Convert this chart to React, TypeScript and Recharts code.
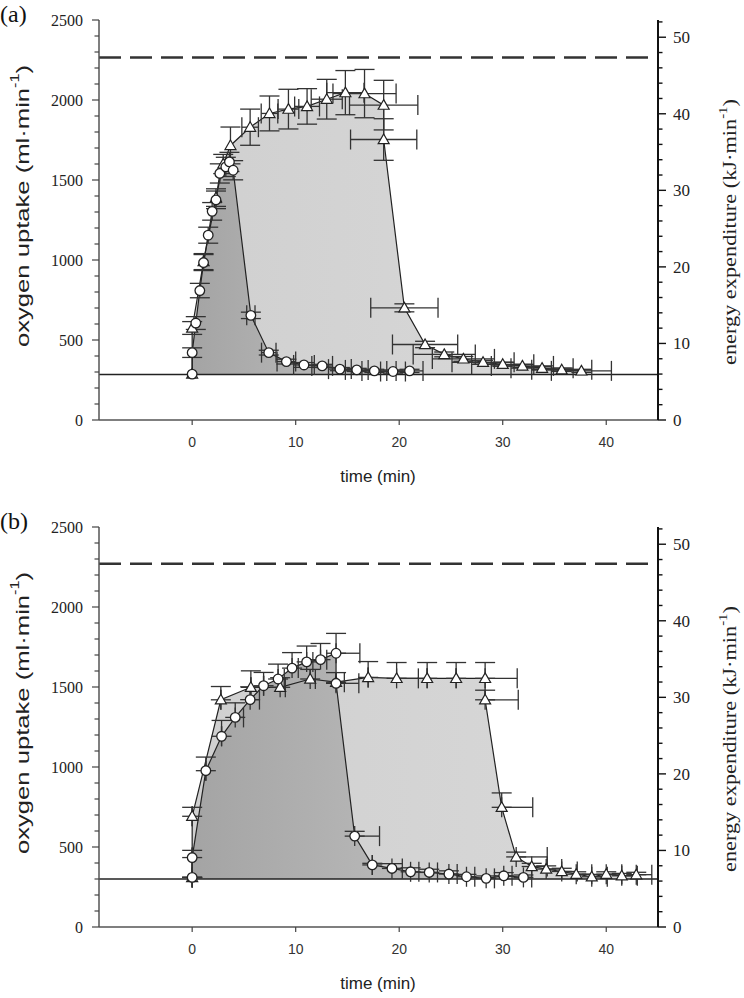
import React from "react";
import {
	Area,
	ComposedChart,
	ErrorBar,
	Line,
	ReferenceLine,
	Scatter,
	XAxis,
	YAxis,
} from "recharts";

const timeTicks = [0, 10, 20, 30, 40];
const oxygenTicks = Array.from({ length: 26 }, (_, i) => i * 100);
const energyTicks = Array.from({ length: 27 }, (_, i) => i * 2);
const energyTop = 52.25; // 2500 ml O2 at ~20.9 kJ per litre

// panel (a)
const aBaseline = 285;
const aPeak = 2265;
const aCircleTime = [0, 0, 0.35, 0.74, 1.1, 1.55, 1.93, 2.3, 2.67, 3.25, 3.6, 3.96, 5.67, 7.4, 9.1, 10.8, 12.56, 14.27, 15.9, 17.6, 19.4, 21.0];
const aCircleVO2 = [287, 421, 606, 809, 984, 1155, 1304, 1376, 1541, 1582, 1613, 1561, 654, 421, 365, 344, 338, 318, 313, 307, 303, 307];
const aCircleErrY = [0, 30, 40, 45, 50, 50, 55, 55, 60, 60, 60, 60, 20, 15, 15, 15, 10, 10, 10, 10, 10, 10];
const aCircleErrX = [0, 0, 0, 0, 0, 0, 0, 0, 0, 0, 0, 0, 0.4, 0.7, 0.9, 1.0, 1.0, 1.1, 1.1, 1.2, 1.2, 1.3];
const aTriTime = [0, 0, 1.1, 2.3, 3.0, 3.7, 5.6, 7.47, 9.3, 11.1, 13.0, 14.8, 16.65, 18.5, 18.5, 20.5, 22.5, 24.35, 26.2, 28.1, 30.0, 31.9, 33.8, 35.7, 37.6];
const aTriVO2 = [287, 575, 990, 1390, 1600, 1716, 1830, 1916, 1943, 1960, 2005, 2046, 2040, 1968, 1753, 701, 472, 410, 382, 361, 348, 338, 324, 314, 307];
const aTriErrY = [0, 40, 50, 55, 60, 115, 113, 109, 124, 111, 124, 138, 151, 155, 130, 25, 20, 15, 15, 12, 12, 10, 10, 10, 10];
const aTriErrX = [0, 0, 0, 0, 0, 0, 0.8, 0.8, 1.0, 1.2, 1.5, 1.8, 3.05, 3.3, 3.2, 3.25, 3.15, 3.0, 3.0, 3.0, 3.0, 3.0, 3.0, 2.9, 2.9];

// panel (b)
const bBaseline = 300;
const bPeak = 2270;
const bCircleTime = [0, 0, 1.32, 2.84, 4.16, 5.6, 6.9, 8.3, 9.65, 11.06, 12.4, 13.9, 13.9, 15.7, 17.4, 19.3, 21.1, 22.9, 24.8, 26.5, 28.4, 30.1, 32.0];
const bCircleVO2 = [310, 434, 977, 1192, 1310, 1421, 1508, 1550, 1618, 1657, 1671, 1711, 1523, 568, 388, 366, 345, 341, 331, 314, 304, 320, 310];
const bCircleErrUp = [0, 45, 85, 99, 91, 80, 83, 93, 97, 99, 101, 124, 0, 30, 10, 30, 25, 20, 20, 15, 15, 20, 15];
const bCircleErrRight = [0, 0, 0, 0, 0.8, 0.9, 0, 0.6, 0.6, 0.6, 0.6, 2.3, 2.2, 2.4, 0, 1.0, 0.8, 0.8, 0.8, 0.8, 0.8, 0.8, 0.8];
const bTriTime = [0, 0, 2.77, 5.67, 8.5, 11.4, 13.9, 17.0, 19.75, 22.7, 25.5, 28.3, 28.3, 29.9, 31.3, 32.8, 34.2, 35.7, 37.1, 38.6, 40.0, 41.5, 42.9];
const bTriVO2 = [310, 692, 1420, 1498, 1498, 1550, 1530, 1560, 1554, 1554, 1554, 1554, 1420, 748, 438, 378, 362, 347, 330, 314, 330, 320, 327];
const bTriErrUp = [0, 56, 83, 103, 60, 60, 60, 99, 99, 99, 99, 99, 60, 90, 30, 20, 20, 20, 15, 15, 15, 15, 15];
const bTriErrRight = [0, 0, 0, 0, 0.5, 0.5, 0.8, 0, 2.1, 0, 0, 3.1, 3.2, 3.0, 3.0, 1.5, 1.5, 1.5, 1.5, 1.5, 1.5, 1.5, 1.5];

type Row = { t: number; v: number; ey: number | number[]; ex: number | number[] };

function symRows(time: number[], vo2: number[], ey: number[], ex: number[]): Row[] {
	return time.map((t, i) => ({ t, v: vo2[i], ey: ey[i], ex: ex[i] }));
}

function upRows(time: number[], vo2: number[], ey: number[], ex: number[]): Row[] {
	return time.map((t, i) => ({ t, v: vo2[i], ey: [0, ey[i]], ex: [0, ex[i]] }));
}

const sans = "'Liberation Sans', Arial, sans-serif";
const serif = "'Liberation Serif', 'Times New Roman', serif";

function CircleMark(p: any) {
	if (p.cx == null || p.cy == null) return null;
	return <circle cx={p.cx} cy={p.cy} r={4.8} fill="#fff" stroke="#222" strokeWidth={1.3} />;
}

function TriMark(p: any) {
	if (p.cx == null || p.cy == null) return null;
	const s = 5.5;
	return (
		<path
			d={`M${p.cx},${p.cy - s}L${p.cx + s},${p.cy + s * 0.75}L${p.cx - s},${p.cy + s * 0.75}Z`}
			fill="#fff"
			stroke="#222"
			strokeWidth={1.2}
		/>
	);
}

function OxygenTick({ x, y, payload }: any) {
	const major = payload.value % 500 === 0;
	return (
		<g>
			<line x1={x - (major ? 7 : 4.5)} x2={x} y1={y} y2={y} stroke="#444" strokeWidth={1.2} />
			{major && (
				<text x={x - 16} y={y} dy="0.35em" textAnchor="end" fontFamily={serif} fontSize={16} fill="#222">
					{payload.value}
				</text>
			)}
		</g>
	);
}

function EnergyTick({ x, y, payload }: any) {
	const major = payload.value % 10 === 0;
	return (
		<g>
			<line x1={x} x2={x + (major ? 8 : 4.5)} y1={y} y2={y} stroke="#111" strokeWidth={1.4} />
			{major && (
				<text x={x + 15} y={y} dy="0.35em" textAnchor="start" fontFamily={serif} fontSize={17} fill="#222">
					{payload.value}
				</text>
			)}
		</g>
	);
}

function TimeTick({ x, y, payload }: any) {
	return (
		<g>
			<line x1={x} x2={x} y1={y} y2={y + 5} stroke="#444" strokeWidth={1.2} />
			<text x={x} y={y + 27} textAnchor="middle" fontFamily={sans} fontSize={14} fill="#333">
				{payload.value}
			</text>
		</g>
	);
}

function Panel({
	id,
	circles,
	triangles,
	baseline,
	peak,
}: {
	id: string;
	circles: Row[];
	triangles: Row[];
	baseline: number;
	peak: number;
}) {
	const bar = { stroke: "#333", strokeWidth: 1.3, width: 10 };
	return (
		<ComposedChart width={744} height={480} margin={{ top: 20, right: 0, bottom: 0, left: 0 }}>
			<defs>
				<linearGradient id={`dark-${id}`} x1="0" y1="0" x2="1" y2="0">
					<stop offset="0%" stopColor="#a4a4a4" />
					<stop offset="100%" stopColor="#c4c4c4" />
				</linearGradient>
				<linearGradient id={`light-${id}`} x1="0" y1="0" x2="1" y2="0">
					<stop offset="0%" stopColor="#d0d0d0" />
					<stop offset="100%" stopColor="#d8d8d8" />
				</linearGradient>
			</defs>
			<XAxis
				dataKey="t"
				type="number"
				domain={[-9, 45]}
				ticks={timeTicks}
				allowDataOverflow
				height={60}
				tickSize={0}
				tickMargin={0}
				tick={<TimeTick />}
				axisLine={{ stroke: "#555", strokeWidth: 1.5 }}
			/>
			<YAxis
				yAxisId="o2"
				type="number"
				domain={[0, 2500]}
				ticks={oxygenTicks}
				interval={0}
				allowDataOverflow
				width={99}
				tickSize={0}
				tickMargin={0}
				tick={<OxygenTick />}
				axisLine={{ stroke: "#555", strokeWidth: 1.5 }}
			/>
			<YAxis
				yAxisId="kj"
				orientation="right"
				type="number"
				domain={[0, energyTop]}
				ticks={energyTicks}
				interval={0}
				allowDataOverflow
				width={86}
				tickSize={0}
				tickMargin={0}
				tick={<EnergyTick />}
				axisLine={{ stroke: "#111", strokeWidth: 2 }}
			/>
			<Area
				yAxisId="o2"
				data={triangles}
				dataKey="v"
				type="linear"
				baseValue={baseline}
				fill={`url(#light-${id})`}
				fillOpacity={1}
				stroke="none"
				isAnimationActive={false}
			/>
			<Area
				yAxisId="o2"
				data={circles}
				dataKey="v"
				type="linear"
				baseValue={baseline}
				fill={`url(#dark-${id})`}
				fillOpacity={1}
				stroke="none"
				isAnimationActive={false}
			/>
			<ReferenceLine yAxisId="o2" y={baseline} stroke="#222" strokeWidth={1.5} />
			<ReferenceLine yAxisId="o2" y={peak} stroke="#333" strokeWidth={2.5} strokeDasharray="22 9" />
			<Line
				yAxisId="o2"
				data={triangles}
				dataKey="v"
				type="linear"
				stroke="#222"
				strokeWidth={1.2}
				dot={false}
				isAnimationActive={false}
			/>
			<Line
				yAxisId="o2"
				data={circles}
				dataKey="v"
				type="linear"
				stroke="#222"
				strokeWidth={1.2}
				dot={false}
				isAnimationActive={false}
			/>
			<Scatter yAxisId="o2" data={triangles} dataKey="v" shape={<TriMark />} isAnimationActive={false}>
				<ErrorBar dataKey="ey" direction="y" {...bar} />
				<ErrorBar dataKey="ex" direction="x" {...bar} />
			</Scatter>
			<Scatter yAxisId="o2" data={circles} dataKey="v" shape={<CircleMark />} isAnimationActive={false}>
				<ErrorBar dataKey="ey" direction="y" {...bar} />
				<ErrorBar dataKey="ex" direction="x" {...bar} />
			</Scatter>
		</ComposedChart>
	);
}

function Titles({ top, tag }: { top: number; tag: string }) {
	return (
		<g transform={`translate(0,${top})`}>
			<text x={0} y={22} fontFamily={serif} fontSize={24} fill="#111">
				{tag}
			</text>
			<text
				transform="translate(22,206) rotate(-90)"
				textAnchor="middle"
				dominantBaseline="central"
				fontFamily={sans}
				fontSize={19}
				fill="#222"
				textLength={282}
				lengthAdjust="spacingAndGlyphs"
			>
				oxygen uptake (ml·min
				<tspan dy={-7} fontSize={12}>
					-1
				</tspan>
				<tspan dy={7}>)</tspan>
			</text>
			<text
				transform="translate(730,232) rotate(-90)"
				textAnchor="middle"
				dominantBaseline="central"
				fontFamily={serif}
				fontSize={18}
				fill="#222"
				textLength={266}
				lengthAdjust="spacingAndGlyphs"
			>
				energy expenditure (kJ·min
				<tspan dy={-7} fontSize={12}>
					-1
				</tspan>
				<tspan dy={7}>)</tspan>
			</text>
			<text x={378} y={482} textAnchor="middle" fontFamily={sans} fontSize={17} fill="#222">
				time (min)
			</text>
		</g>
	);
}

export default function App() {
	const aCircles = symRows(aCircleTime, aCircleVO2, aCircleErrY, aCircleErrX);
	const aTriangles = symRows(aTriTime, aTriVO2, aTriErrY, aTriErrX);
	const bCircles = upRows(bCircleTime, bCircleVO2, bCircleErrUp, bCircleErrRight);
	const bTriangles = upRows(bTriTime, bTriVO2, bTriErrUp, bTriErrRight);

	return (
		<div style={{ position: "absolute", left: 0, top: 0, width: 744, height: 998, background: "#fff", overflow: "hidden" }}>
			<div style={{ position: "absolute", left: 0, top: 0 }}>
				<Panel id="a" circles={aCircles} triangles={aTriangles} baseline={aBaseline} peak={aPeak} />
			</div>
			<div style={{ position: "absolute", left: 0, top: 507 }}>
				<Panel id="b" circles={bCircles} triangles={bTriangles} baseline={bBaseline} peak={bPeak} />
			</div>
			<svg width={744} height={998} style={{ position: "absolute", left: 0, top: 0, pointerEvents: "none" }}>
				<Titles top={0} tag="(a)" />
				<Titles top={507} tag="(b)" />
			</svg>
		</div>
	);
}
